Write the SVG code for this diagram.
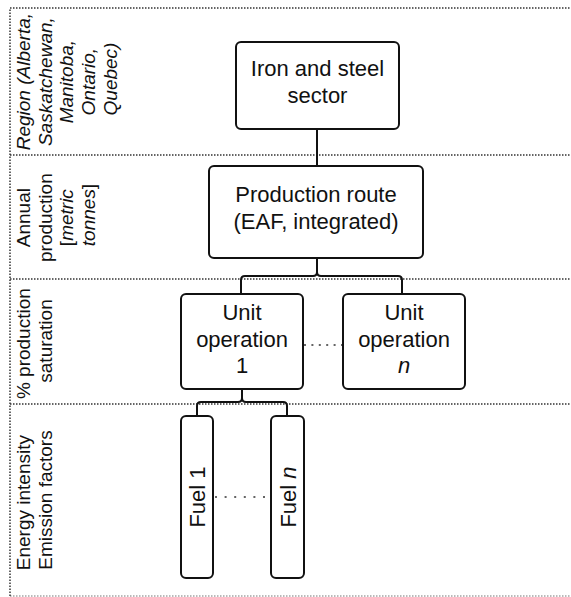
<svg xmlns="http://www.w3.org/2000/svg" width="571" height="597" viewBox="0 0 571 597">
  <style>
    .band { fill: none; stroke: #333; stroke-width: 1.5; stroke-dasharray: 1.5 1.5; }
    .box { fill: #fff; stroke: #111; stroke-width: 2; }
    .link { fill: none; stroke: #111; stroke-width: 2; }
    .dots { fill: none; stroke: #333; stroke-width: 1.6; }
    .node-text { font-family: "Liberation Sans", Arial, sans-serif; font-size: 22px; fill: #111; text-anchor: middle; }
    .label { font-family: "Liberation Sans", Arial, sans-serif; font-size: 19px; fill: #111; text-anchor: middle; }
    .it { font-style: italic; }
  </style>
  <rect width="571" height="597" fill="#fff"/>

  <!-- dotted bands: levels of the hierarchy -->
  <g id="bands">
    <path class="band" d="M10,596 V8 H571"/>
    <path class="band" d="M10,155 H571"/>
    <path class="band" d="M10,279 H571"/>
    <path class="band" d="M10,404 H571"/>
    <path class="band" d="M10,596 H571" opacity="0.45"/>
  </g>

  <!-- level labels -->
  <g id="label-region">
    <text class="label it" transform="translate(30,79) rotate(-90)">
      <tspan x="0" dy="0">Region (Alberta,</tspan>
      <tspan x="0" dy="21.7">Saskatchewan,</tspan>
      <tspan x="0" dy="21.7">Manitoba,</tspan>
      <tspan x="0" dy="21.7">Ontario,</tspan>
      <tspan x="0" dy="21.7">Quebec)</tspan>
    </text>
  </g>
  <g id="label-annual">
    <text class="label" transform="translate(30,215) rotate(-90)">
      <tspan x="0" dy="0">Annual</tspan>
      <tspan x="0" dy="21.7">production</tspan>
      <tspan x="0" dy="21.7">[<tspan class="it">metric</tspan></tspan>
      <tspan x="0" dy="21.7"><tspan class="it">tonnes</tspan>]</tspan>
    </text>
  </g>
  <g id="label-saturation">
    <text class="label" transform="translate(30,341) rotate(-90)">
      <tspan x="0" dy="0">% production</tspan>
      <tspan x="0" dy="21.7">saturation</tspan>
    </text>
  </g>
  <g id="label-energy">
    <text class="label" transform="translate(30,500) rotate(-90)">
      <tspan x="0" dy="0">Energy intensity</tspan>
      <tspan x="0" dy="21.7">Emission factors</tspan>
    </text>
  </g>

  <!-- connectors -->
  <g id="connectors">
    <path class="link" d="M317,129 V166"/>
    <path class="link" d="M317,258 V272 Q317,276 313,276 H245 Q241,276 241,280 V294"/>
    <path class="link" d="M317,272 Q317,276 321,276 H398 Q402,276 402,280 V294"/>
    <path class="link" d="M242,389 V398 Q242,402 238,402 H201 Q197,402 197,406 V416"/>
    <path class="link" d="M242,398 Q242,402 246,402 H283 Q287,402 287,406 V416"/>
    <path class="dots" d="M304,345 H343" stroke-dasharray="2 5.4"/>
    <path class="dots" d="M215,497 H265" stroke-dasharray="2 7.6"/>
  </g>

  <!-- nodes -->
  <g id="node-sector">
    <rect class="box" x="236" y="42" width="163" height="87" rx="5"/>
    <text class="node-text" x="317.5" y="76">Iron and steel</text>
    <text class="node-text" x="317.5" y="102.5">sector</text>
  </g>
  <g id="node-route">
    <rect class="box" x="209" y="166" width="214" height="92" rx="5"/>
    <text class="node-text" x="316" y="202">Production route</text>
    <text class="node-text" x="316" y="228.5">(EAF, integrated)</text>
  </g>
  <g id="node-unit-1">
    <rect class="box" x="181" y="294" width="122" height="95" rx="5"/>
    <text class="node-text" x="242" y="320">Unit</text>
    <text class="node-text" x="242" y="346.5">operation</text>
    <text class="node-text" x="242" y="373">1</text>
  </g>
  <g id="node-unit-n">
    <rect class="box" x="343" y="294" width="122" height="95" rx="5"/>
    <text class="node-text" x="404" y="320">Unit</text>
    <text class="node-text" x="404" y="346.5">operation</text>
    <text class="node-text it" x="404" y="373">n</text>
  </g>
  <g id="node-fuel-1">
    <rect class="box" x="181" y="416" width="32" height="162" rx="5"/>
    <text class="node-text" transform="translate(205,497) rotate(-90)">Fuel 1</text>
  </g>
  <g id="node-fuel-n">
    <rect class="box" x="271" y="416" width="33" height="162" rx="5"/>
    <text class="node-text" transform="translate(295.5,497) rotate(-90)">Fuel <tspan class="it">n</tspan></text>
  </g>
</svg>
